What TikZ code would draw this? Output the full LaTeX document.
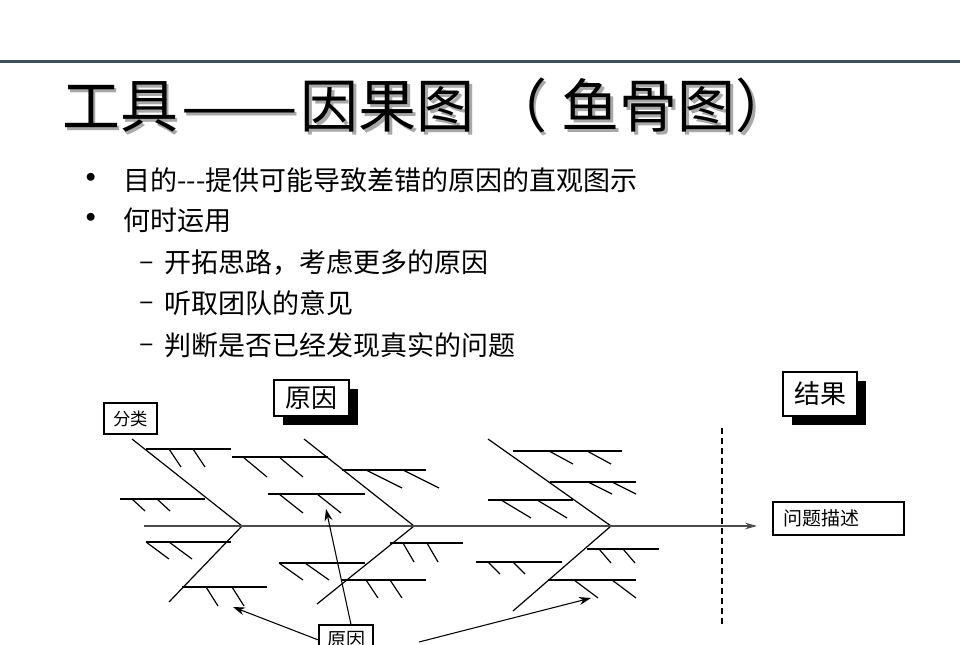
\documentclass[tikz,border=0pt]{standalone}
\usepackage{fontspec}
\setmainfont{Noto Sans CJK SC}
\usetikzlibrary{arrows.meta,shadows}
\definecolor{DSlate}{HTML}{3E4E5A}
\definecolor{SGray}{HTML}{A8A8A8}
\definecolor{BGray}{HTML}{4A4A4A}
\NewDocumentCommand{\Bone}{m m m m m m}{
    \draw[bone] (#1,#3) -- (#2,#3);
    \draw[bone] (#4,#3) -- ++#6;
    \draw[bone] (#5,#3) -- ++#6;
}
\newcommand{\TitleText}{工具\hspace{0.05em}\scalebox{1.2}[1]{——}\hspace{0.05em}因果图\hspace{0.25em}（\hspace{0.25em}鱼骨图）}
\newcommand{\Canvas}{
\useasboundingbox (0,0) rectangle (960,645);

\begin{scope}[name prefix=S1-]
    \coordinate (top) at (132,439);
    \coordinate (joint) at (242,526);
    \coordinate (bottom) at (169,602);
\end{scope}

\begin{scope}[name prefix=S2-]
    \coordinate (top) at (304,439);
    \coordinate (joint) at (414,526);
    \coordinate (bottom) at (317,604);
\end{scope}

\begin{scope}[name prefix=S3-]
    \coordinate (top) at (488,439);
    \coordinate (joint) at (611,526);
    \coordinate (bottom) at (513,611);
\end{scope}

\coordinate (spine-start) at (144,526);
\coordinate (spine-end) at (757,526);
\coordinate (cut-top) at (722,428);
\coordinate (cut-bottom) at (722,628);
\coordinate (tip-a) at (233,607);
\coordinate (tip-b) at (326,509);
\coordinate (tail-c) at (419,642);
\coordinate (tip-c) at (591,598);
}
\tikzset{
    bone/.style={line width=0.9pt},
    labelbox/.style={draw, line width=0.8pt, fill=white, inner sep=0pt},
    heavybox/.style={labelbox, general shadow={fill=black, shadow xshift=6.75pt, shadow yshift=-6.75pt}},
    pointer/.style={line width=0.8pt, -{Stealth[length=9pt, width=6pt]}},
    bodytext/.style={anchor=west, inner sep=0pt, font=\fontsize{20.25}{24}\selectfont},
    bulletmark/.style={anchor=center, inner sep=0pt, font=\fontsize{28}{30}\selectfont},
    titletext/.style={anchor=base west, inner sep=0pt, font=\fontsize{43.5}{50}\selectfont},
}

\begin{document}
\begin{tikzpicture}[x=0.75pt, y=-0.75pt]
\Canvas
\draw[DSlate, line width=2.4pt] (0,61.5) -- (960,61.5);

\node[titletext, text=SGray] (title-shadow) at (64.5,130.5) {\TitleText};
\node[titletext] (title) at (62,128) {\TitleText};

\node[bulletmark] (dot-1) at (91,182) {•};
\node[bodytext] (aim) at (123,180) {目的-{}-{}-提供可能导致差错的原因的直观图示};
\node[bulletmark] (dot-2) at (91,222) {•};
\node[bodytext] (when) at (123,220) {何时运用};
\node[bodytext, anchor=center] (dash-1) at (147,266) {–};
\node[bodytext] (use-1) at (164,263) {开拓思路，考虑更多的原因};
\node[bodytext, anchor=center] (dash-2) at (147,306) {–};
\node[bodytext] (use-2) at (164,303) {听取团队的意见};
\node[bodytext, anchor=center] (dash-3) at (147,348) {–};
\node[bodytext] (use-3) at (164,345) {判断是否已经发现真实的问题};

% fish bones
\draw[bone] (S1-top) -- (S1-joint) -- (S1-bottom);
\draw[bone] (S2-top) -- (S2-joint) -- (S2-bottom);
\draw[bone] (S3-top) -- (S3-joint) -- (S3-bottom);
\draw[BGray, line width=0.9pt, -{Stealth[length=9pt, width=5pt]}] (spine-start) -- (spine-end);
\draw[line width=0.8pt, dash pattern=on 4.5pt off 3pt] (cut-top) -- (cut-bottom);

\Bone{146}{231}{449}{169}{193}{(12,18)}
\Bone{120}{205}{499}{132}{157}{(13,12)}
\Bone{146}{231}{542}{146}{169}{(23,17)}
\Bone{182}{267}{587}{206}{232}{(12,19)}

\Bone{232}{328}{457}{243}{279}{(24,20)}
\Bone{268}{365}{494}{279}{317}{(24,19)}
\Bone{342}{426}{470}{366}{403}{(36,18)}
\Bone{279}{365}{563}{279}{305}{(24,17)}
\Bone{390}{463}{543}{403}{427}{(11,19)}
\Bone{342}{426}{580}{366}{390}{(12,18)}

\Bone{513}{622}{451}{549}{587}{(24,13)}
\Bone{550}{636}{482}{588}{612}{(24,12)}
\Bone{488}{573}{500}{501}{537}{(30,18)}
\Bone{587}{659}{549}{599}{623}{(12,14)}
\Bone{476}{562}{562}{488}{513}{(12,12)}
\Bone{548}{636}{580}{574}{612}{(24,18)}

\node[labelbox, minimum width=39.75pt, minimum height=23.25pt, font=\fontsize{13}{15}\selectfont] (group) at (130.5,418.5) {分类};
\node[heavybox, minimum width=56.25pt, minimum height=27pt, font=\fontsize{19.5}{22}\selectfont] (causes) at (311.5,398) {原因};
\node[heavybox, minimum width=55.5pt, minimum height=33pt, font=\fontsize{19.5}{22}\selectfont] (effect) at (820,394) {结果};
\node[labelbox, minimum height=24.75pt, inner xsep=7.5pt, text width=83.25pt, align=left, font=\fontsize{14.25}{16}\selectfont] (problem) at (838.5,518.5) {问题描述};
\node[labelbox, minimum width=40.5pt, minimum height=22.5pt, font=\fontsize{14.25}{16}\selectfont] (cause) at (346,640) {原因};

\draw[pointer] (cause.west) -- (tip-a);
\draw[pointer] ([xshift=3.75pt]cause.north) -- (tip-b);
\draw[pointer] (tail-c) -- (tip-c);
\end{tikzpicture}
\end{document}
